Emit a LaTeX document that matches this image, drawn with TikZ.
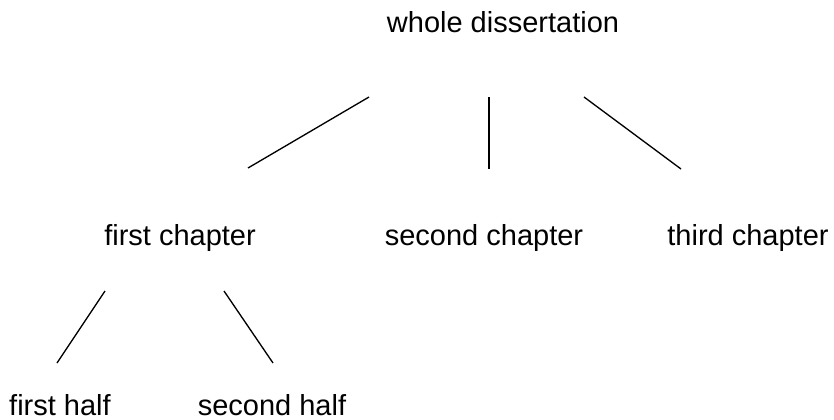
\documentclass[tikz,border=0pt]{standalone}
\usepackage{fontspec}
\setmainfont{Liberation Sans}
\usetikzlibrary{positioning}

\begin{document}
\begin{tikzpicture}[
        x=0.75pt,
        y=-0.75pt,
        label/.style={anchor=base, inner sep=0pt, font=\fontsize{21.75}{26}\selectfont},
        branch/.style={line width=1pt, black}
    ]
        \useasboundingbox (0, 0) rectangle (834, 419);

        % --- Textes de l'arbre ---
        \node[label] (whole)  at (503, 32)  {whole dissertation};
        \node[label] (first)  at (180, 245) {first chapter};
        \node[label] (second) at (484, 245) {second chapter};
        \node[label] (third)  at (748, 245) {third chapter};
        \node[label] (halfA)  at (60, 415)  {first half};
        \node[label] (halfB)  at (272, 415) {second half};

        % --- Extrémités des branches ---
        \coordinate (w1) at (369, 97);   % vers first chapter
        \coordinate (f1) at (248, 168);
        \coordinate (w2) at (489, 97);   % vers second chapter
        \coordinate (s1) at (489, 169);
        \coordinate (w3) at (584, 97);   % vers third chapter
        \coordinate (t1) at (681, 169);
        \coordinate (c1) at (105, 291);  % vers first half
        \coordinate (a1) at (57, 363);
        \coordinate (c2) at (224, 291);  % vers second half
        \coordinate (b1) at (273, 363);

        % --- Branches ---
        \draw[branch] (w1) -- (f1);
        \draw[branch] (w2) -- (s1);
        \draw[branch] (w3) -- (t1);
        \draw[branch] (c1) -- (a1);
        \draw[branch] (c2) -- (b1);

    \end{tikzpicture}
\end{document}
